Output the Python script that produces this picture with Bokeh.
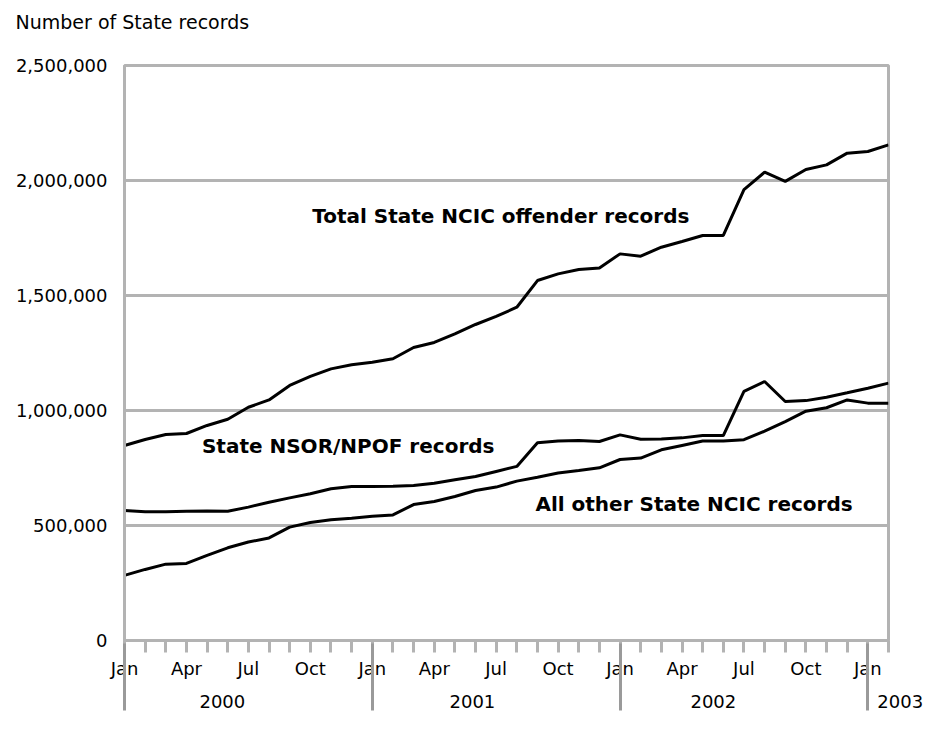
from bokeh.plotting import figure
from bokeh.models import Range1d, FixedTicker, LinearAxis, Label
from bokeh.embed import file_html
from bokeh.resources import INLINE

# ---- data (monthly, Jan 2000 .. Feb 2003) ----
months = list(range(38))
month_labels = ["Jan", "", "", "Apr", "", "", "Jul", "", "", "Oct", "", ""] * 3 + ["Jan", ""]
years = ["2000", "2001", "2002", "2003"]
year_label_pos = [3.63, 15.74, 27.41, 36.46]   # left edge of each year label
year_breaks = [0, 12, 24, 36]

total = [848000, 874000, 896000, 900000, 935000, 962000, 1014000, 1046000, 1109000, 1148000,
         1181000, 1199000, 1210000, 1225000, 1274000, 1296000, 1333000, 1374000, 1409000, 1449000,
         1565000, 1594000, 1613000, 1620000, 1681000, 1671000, 1710000, 1735000, 1761000, 1761000,
         1960000, 2036000, 1996000, 2048000, 2068000, 2119000, 2126000, 2155000]
nsor_npof = [565000, 560000, 560000, 562000, 563000, 562000, 580000, 601000, 620000, 638000,
             660000, 670000, 670000, 671000, 674000, 684000, 699000, 713000, 735000, 757000,
             860000, 867000, 870000, 865000, 894000, 875000, 876000, 881000, 891000, 891000,
             1083000, 1126000, 1039000, 1043000, 1058000, 1077000, 1097000, 1119000]
all_other = [283000, 309000, 332000, 335000, 370000, 403000, 428000, 446000, 493000, 513000,
             525000, 532000, 540000, 546000, 591000, 604000, 626000, 652000, 667000, 693000,
             710000, 728000, 739000, 751000, 787000, 793000, 829000, 848000, 867000, 867000,
             873000, 910000, 952000, 997000, 1012000, 1046000, 1032000, 1032000]

y_ticks = [0, 500000, 1000000, 1500000, 2000000, 2500000]
y_tick_labels = ["0", "500,000", "1,000,000", "1,500,000", "2,000,000", "2,500,000"]
y_title = "Number of State records"
y_title_pos = 0.38   # centre of the title text, in months

FONT = "DejaVu Sans"
GRID = "#b3b3b3"
SEP = "#9a9a9a"

p = figure(width=940, height=730, output_backend="svg", toolbar_location=None,
           x_range=Range1d(0, 37), y_range=Range1d(0, 2500000),
           min_border_left=124, min_border_right=52, min_border_top=65, min_border_bottom=90,
           background_fill_color="white", border_fill_color="white")

p.outline_line_color = GRID
p.outline_line_width = 3

ya = p.left[0]
xa = p.below[0]

# y axis
ya.ticker = FixedTicker(ticks=y_ticks)
ya.major_label_overrides = {t: l for t, l in zip(y_ticks, y_tick_labels)}
ya.major_tick_line_color = None
ya.minor_tick_line_color = None
ya.major_tick_out = 0
ya.major_tick_in = 0
ya.axis_line_color = GRID
ya.axis_line_width = 3
ya.major_label_standoff = 17
ya.major_label_text_font = FONT
ya.major_label_text_font_size = "18px"
ya.major_label_text_color = "black"

p.ygrid.ticker = FixedTicker(ticks=y_ticks)
p.ygrid.grid_line_color = GRID
p.ygrid.grid_line_width = 3
p.xgrid.visible = False

# x axis (months)
xa.ticker = FixedTicker(ticks=months)
xa.major_label_overrides = {m: l for m, l in zip(months, month_labels)}
xa.major_tick_line_color = GRID
xa.major_tick_line_width = 3
xa.major_tick_out = 12
xa.major_tick_in = 0
xa.minor_tick_line_color = None
xa.axis_line_color = GRID
xa.axis_line_width = 3
xa.major_label_standoff = 5
xa.major_label_text_font = FONT
xa.major_label_text_font_size = "18px"
xa.major_label_text_color = "black"

# title of the value axis, drawn as a label above the frame
ta = LinearAxis(ticker=FixedTicker(ticks=[y_title_pos], minor_ticks=[]))
ta.major_label_overrides = {y_title_pos: y_title}
ta.axis_line_color = None
ta.major_tick_line_color = None
ta.minor_tick_line_color = None
ta.major_tick_out = 0
ta.major_tick_in = 0
ta.major_label_standoff = 33
ta.major_label_text_font = FONT
ta.major_label_text_font_size = "19px"
ta.major_label_text_color = "black"
p.add_layout(ta, "above")

# second x axis: year separators and year labels
xa2 = LinearAxis(ticker=FixedTicker(ticks=year_label_pos, minor_ticks=year_breaks))
xa2.major_label_overrides = {pos: y for pos, y in zip(year_label_pos, years)}
xa2.major_label_orientation = -0.0001
xa2.axis_line_color = None
xa2.major_tick_line_color = None
xa2.major_tick_out = 0
xa2.major_tick_in = 0
xa2.minor_tick_line_color = SEP
xa2.minor_tick_line_width = 3
xa2.minor_tick_in = 38
xa2.minor_tick_out = 29
xa2.major_label_standoff = -9
xa2.major_label_text_font = FONT
xa2.major_label_text_font_size = "18px"
xa2.major_label_text_color = "black"
p.add_layout(xa2, "below")

# series
for s in (total, nsor_npof, all_other):
    p.line(months, s, line_color="black", line_width=3)

# labels
def lab(x, y, text):
    p.add_layout(Label(x=x, y=y, text=text, text_font=FONT, text_font_size="20px",
                       text_font_style="bold", text_color="black",
                       text_baseline="alphabetic", text_align="left"))

lab(9.09, 1844000, "Total State NCIC offender records")
lab(3.75, 847000, "State NSOR/NPOF records")
lab(19.9, 593000, "All other State NCIC records")

open("out.html", "w").write(file_html(p, INLINE))
